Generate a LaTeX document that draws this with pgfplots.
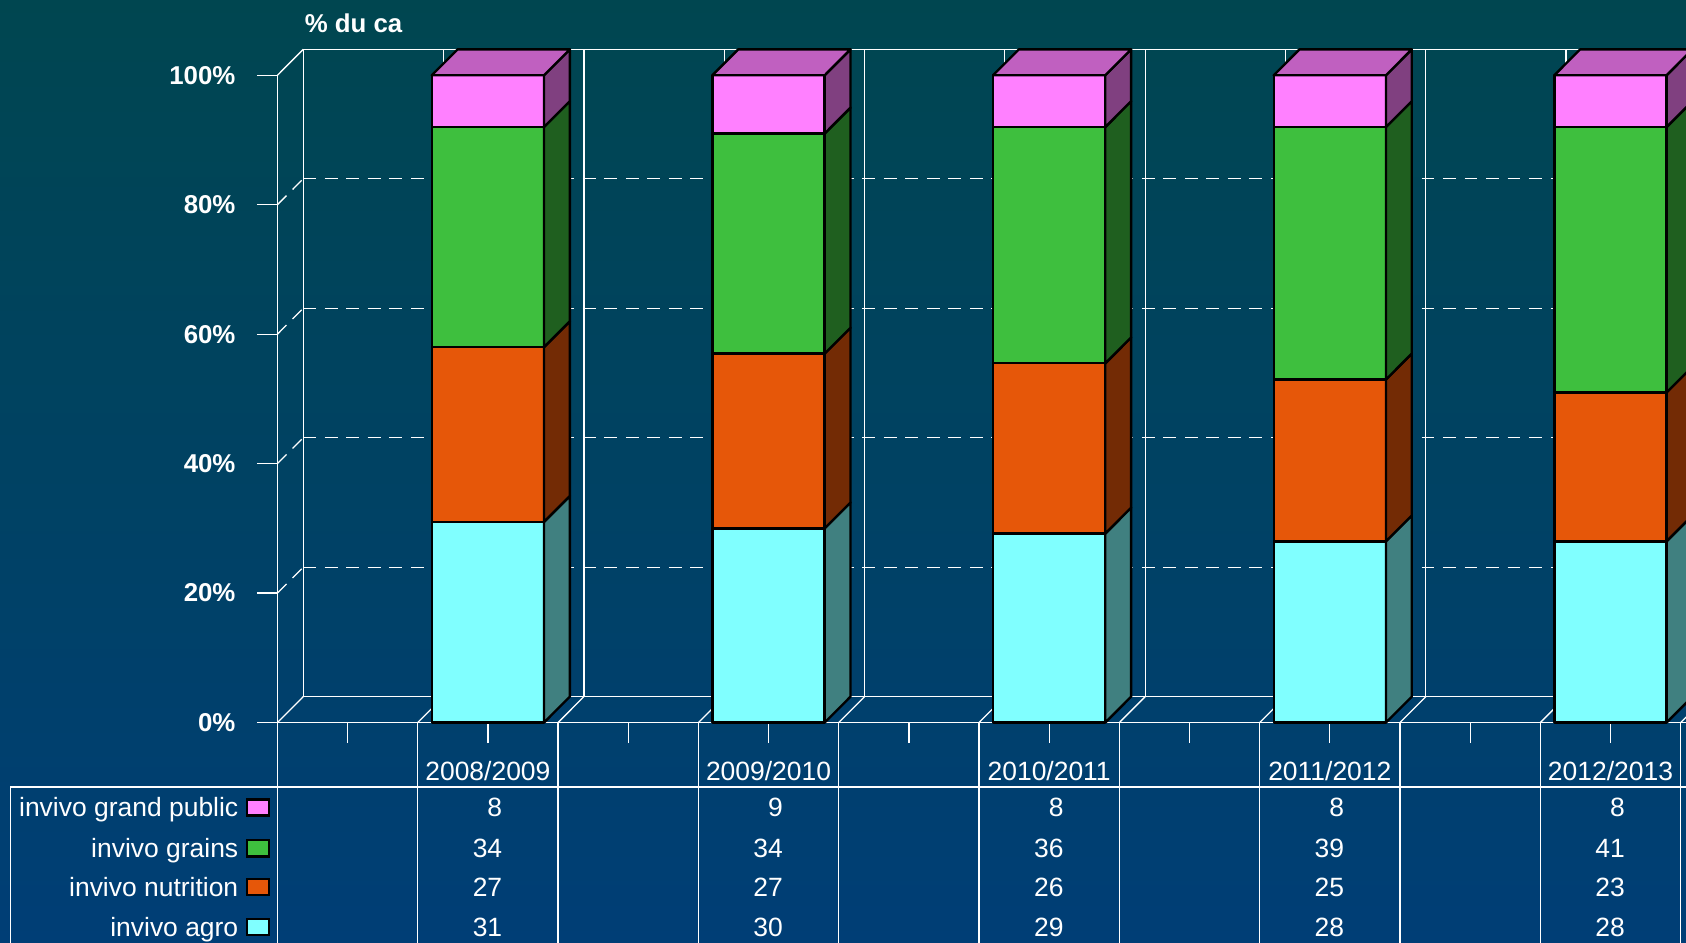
\documentclass[border=0pt]{standalone}
\usepackage{pgfplots}
\pgfplotsset{compat=1.18}
\usepackage{fontspec}
\setmainfont{Liberation Sans}

\definecolor{bgtop}{RGB}{0,70,80}
\definecolor{bgbot}{RGB}{0,62,118}
\definecolor{agro}{RGB}{128,255,255}
\definecolor{agroS}{RGB}{64,128,128}
\definecolor{nutri}{RGB}{230,87,9}
\definecolor{nutriS}{RGB}{115,43,5}
\definecolor{grains}{RGB}{62,191,62}
\definecolor{grainsS}{RGB}{31,95,31}
\definecolor{gp}{RGB}{255,128,255}
\definecolor{gpS}{RGB}{128,64,128}
\definecolor{gpT}{RGB}{192,96,192}

\newcommand\tablefont{\fontsize{12.3}{14}\selectfont}

% one stacked segment: front face and right side face (depth 0.184 x, 4 y)
\newcommand\seg[4]{%
  \pgfmathsetmacro\ua{#1+4}\pgfmathsetmacro\ub{#2+4}%
  \addplot[draw=black, fill=#3, line width=1.1pt, line join=round]
    coordinates {(\xl,#1) (\xr,#1) (\xr,#2) (\xl,#2)} -- cycle;
  \addplot[draw=black, fill=#4, line width=1.1pt, line join=round]
    coordinates {(\xr,#1) (\xs,\ua) (\xs,\ub) (\xr,#2)} -- cycle;
}
% #1 slot, #2 agro, #3 nutrition, #4 grains, #5 grand public
\newcommand\stackbar[5]{%
  \pgfmathsetmacro\xl{#1-0.4}\pgfmathsetmacro\xr{#1+0.4}%
  \pgfmathsetmacro\xs{#1+0.584}\pgfmathsetmacro\xb{#1-0.216}%
  \pgfmathsetmacro\ya{#2}\pgfmathsetmacro\yb{#2+#3}%
  \pgfmathsetmacro\yc{#2+#3+#4}\pgfmathsetmacro\yd{#2+#3+#4+#5}%
  \pgfmathsetmacro\yt{\yd+4}%
  \seg{0}{\ya}{agro}{agroS}
  \seg{\ya}{\yb}{nutri}{nutriS}
  \seg{\yb}{\yc}{grains}{grainsS}
  \seg{\yc}{\yd}{gp}{gpS}
  \addplot[draw=black, fill=gpT, line width=1.1pt, line join=round]
    coordinates {(\xl,\yd) (\xb,\yt) (\xs,\yt) (\xr,\yd)} -- cycle;
}
% table row: #1 baseline y, #2 key centre y, #3 key colour, #4 name, #5..#9 values
\newcommand\tabrow[9]{%
  \node[val] at (axis cs:-0.776,#1) {#4};
  \node[key, fill=#3] at (axis cs:-0.638,#2) {};
  \node[val] at (axis cs:1.105,#1) {#5};
  \node[val] at (axis cs:3.105,#1) {#6};
  \node[val] at (axis cs:5.105,#1) {#7};
  \node[val] at (axis cs:7.105,#1) {#8};
  \node[val] at (axis cs:9.105,#1) {#9};
}

\begin{document}
\begin{tikzpicture}[
  val/.style={anchor=base east, text=white, font=\tablefont, inner sep=0pt},
  wl/.style={white, line width=0.6pt},
  key/.style={draw=black, line width=1pt, minimum width=10pt, minimum height=7.5pt, inner sep=0pt}]
\shade[top color=bgtop, bottom color=bgbot] (-129pt,-102.5pt) rectangle (655pt,336pt);
\begin{axis}[
  scale only axis, width=655.1pt, height=301pt,
  xmin=-0.5, xmax=9.54, ymin=0, ymax=100,
  clip=false,
  axis x line*=bottom, axis y line*=left,
  axis line style={white, line width=0.6pt},
  tick style={white, line width=0.6pt},
  tick align=outside, major tick length=9.5pt,
  xtick={0,...,9}, xticklabels={},
  ytick={0,20,...,100},
  yticklabels={0\%,20\%,40\%,60\%,80\%,100\%},
  yticklabel style={text=white, font=\bfseries\fontsize{12}{14}\selectfont, anchor=east, xshift=-6.5pt},
  /pgf/number format/assume math mode=true,
]
% back wall and floor
\draw[wl] (axis cs:-0.316,4) -- (axis cs:-0.316,104) -- (axis cs:10,104);
\draw[wl] (axis cs:-0.316,4) -- (axis cs:10,4);
\draw[wl, dashed, dash pattern=on 6pt off 4pt] (axis cs:-0.316,24) -- (axis cs:10,24)
  (axis cs:-0.316,44) -- (axis cs:10,44) (axis cs:-0.316,64) -- (axis cs:10,64)
  (axis cs:-0.316,84) -- (axis cs:10,84);
\draw[wl, dashed, dash pattern=on 6pt off 4pt] (axis cs:-0.5,20) -- (axis cs:-0.316,24)
  (axis cs:-0.5,40) -- (axis cs:-0.316,44) (axis cs:-0.5,60) -- (axis cs:-0.316,64)
  (axis cs:-0.5,80) -- (axis cs:-0.316,84);
\draw[wl] (axis cs:-0.5,100) -- (axis cs:-0.316,104);
\draw[wl] (axis cs:0.684,4) -- (axis cs:0.684,104) (axis cs:1.684,4) -- (axis cs:1.684,104)
  (axis cs:2.684,4) -- (axis cs:2.684,104) (axis cs:3.684,4) -- (axis cs:3.684,104)
  (axis cs:4.684,4) -- (axis cs:4.684,104) (axis cs:5.684,4) -- (axis cs:5.684,104)
  (axis cs:6.684,4) -- (axis cs:6.684,104) (axis cs:7.684,4) -- (axis cs:7.684,104)
  (axis cs:8.684,4) -- (axis cs:8.684,104);
\draw[wl] (axis cs:-0.5,0) -- (axis cs:-0.316,4) (axis cs:0.5,0) -- (axis cs:0.684,4)
  (axis cs:1.5,0) -- (axis cs:1.684,4) (axis cs:2.5,0) -- (axis cs:2.684,4)
  (axis cs:3.5,0) -- (axis cs:3.684,4) (axis cs:4.5,0) -- (axis cs:4.684,4)
  (axis cs:5.5,0) -- (axis cs:5.684,4) (axis cs:6.5,0) -- (axis cs:6.684,4)
  (axis cs:7.5,0) -- (axis cs:7.684,4) (axis cs:8.5,0) -- (axis cs:8.684,4)
  (axis cs:9.5,0) -- (axis cs:9.684,4);
% data table grid
\draw[wl] (axis cs:-0.5,0) -- (axis cs:-0.5,-35) (axis cs:0.5,0) -- (axis cs:0.5,-35)
  (axis cs:1.5,0) -- (axis cs:1.5,-35) (axis cs:2.5,0) -- (axis cs:2.5,-35)
  (axis cs:3.5,0) -- (axis cs:3.5,-35) (axis cs:4.5,0) -- (axis cs:4.5,-35)
  (axis cs:5.5,0) -- (axis cs:5.5,-35) (axis cs:6.5,0) -- (axis cs:6.5,-35)
  (axis cs:7.5,0) -- (axis cs:7.5,-35) (axis cs:8.5,0) -- (axis cs:8.5,-35)
  (axis cs:9.5,0) -- (axis cs:9.5,-35);
\draw[wl] (axis cs:-2.4,-35) -- (axis cs:-2.4,-9.967) -- (axis cs:10,-9.967);

% bars
\stackbar{1}{31}{27}{34}{8}
\stackbar{3}{30}{27}{34}{9}
\stackbar{5}{29.2}{26.3}{36.5}{8}
\stackbar{7}{28}{25}{39}{8}
\stackbar{9}{28}{23}{41}{8}

% labels
\node[anchor=west, text=white, font=\bfseries\fontsize{12}{14}\selectfont, inner sep=0pt]
  at (axis cs:-0.308,107.97) {\% du ca};
\node[text=white, font=\tablefont, inner sep=0pt] at (axis cs:1,-7.475) {2008/2009};
\node[text=white, font=\tablefont, inner sep=0pt] at (axis cs:3,-7.475) {2009/2010};
\node[text=white, font=\tablefont, inner sep=0pt] at (axis cs:5,-7.475) {2010/2011};
\node[text=white, font=\tablefont, inner sep=0pt] at (axis cs:7,-7.475) {2011/2012};
\node[text=white, font=\tablefont, inner sep=0pt] at (axis cs:9,-7.475) {2012/2013};

\tabrow{-14.58}{-13.12}{gp}{invivo grand public}{8}{9}{8}{8}{8}
\tabrow{-20.90}{-19.44}{grains}{invivo grains}{34}{34}{36}{39}{41}
\tabrow{-26.88}{-25.42}{nutri}{invivo nutrition}{27}{27}{26}{25}{23}
\tabrow{-33.02}{-31.56}{agro}{invivo agro}{31}{30}{29}{28}{28}
\end{axis}
\pgfresetboundingbox
\path[use as bounding box] (-129pt,-102.5pt) rectangle (655pt,336pt);
\end{tikzpicture}
\end{document}
